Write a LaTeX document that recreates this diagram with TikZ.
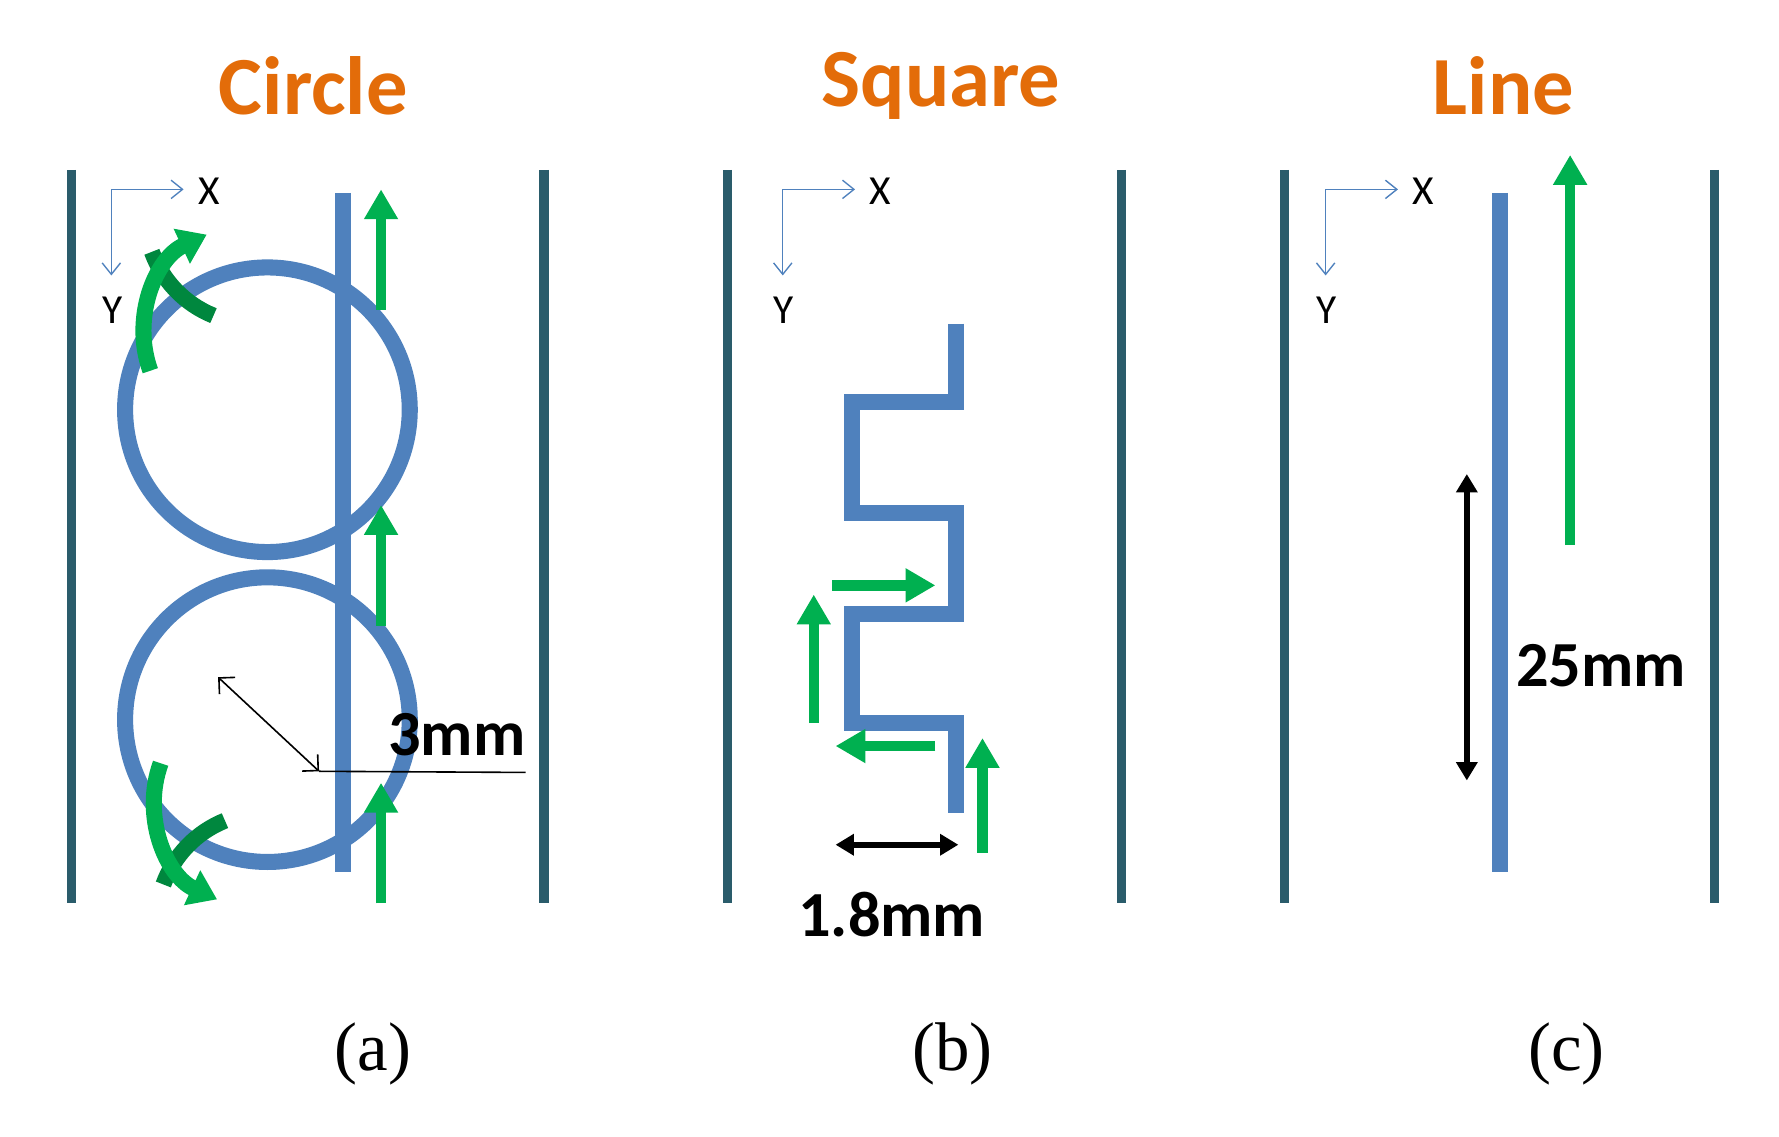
\documentclass[tikz,border=0pt]{standalone}
\usepackage{fontspec}
\setmainfont{Liberation Serif}
\newfontfamily\carl{Carlito}
\usetikzlibrary{arrows.meta}
\definecolor{wall}{HTML}{2A5C6B}
\definecolor{bl}{HTML}{4F81BD}
\definecolor{gr}{HTML}{00B050}
\definecolor{dg}{HTML}{00873E}
\definecolor{org}{HTML}{E36C09}
\begin{document}
\begin{tikzpicture}[x=0.5pt,y=-0.5pt,
 wallst/.style={wall,line width=4pt},
 strip/.style={bl,line width=7pt},
 garrow/.style={gr,line width=4.5pt,-{Triangle[length=13pt,width=14pt]}},
 curv/.style={line width=7pt,-{Triangle[length=12pt,width=16pt]}},
 axis/.style={bl,line width=0.6pt,-{Straight Barb[length=5pt,width=8pt]}},
 ttl/.style={text=org,font=\carl\bfseries\fontsize{36}{40}\selectfont},
 lab/.style={font=\carl\fontsize{18}{20}\selectfont},
 dim/.style={font=\carl\bfseries\fontsize{28}{30}\selectfont},
 captxt/.style={font=\fontsize{30}{34}\selectfont}]
\useasboundingbox (0,0) rectangle (1550,990);
% titles
\node[ttl] (t1) at (273,75) {Circle};
\node[ttl] (t2) at (820,75) {Square};
\node[ttl] (t3) at (1310,75) {Line};
% walls
\foreach \x/\n in {62/a,474/b,634/c,977/d,1119/e,1494/f}{
 \coordinate (w\n1) at (\x,148); \coordinate (w\n2) at (\x,787);
 \draw[wallst] (w\n1) -- (w\n2);}
% axes
\foreach \x/\n in {97/a,682/b,1155/c}{
 \coordinate (o\n) at (\x,165); \coordinate (ox\n) at (\x+63,165); \coordinate (oy\n) at (\x,240);
 \draw[axis] (o\n) -- (ox\n); \draw[axis] (o\n) -- (oy\n);
 \node[lab] (X\n) at (\x+85,167) {X};
 \node[lab] (Y\n) at (\x+1,270) {Y};}
% panel a
\coordinate (sa1) at (299,168); \coordinate (sa2) at (299,760);
\draw[strip] (sa1) -- (sa2);
\node[draw=bl,line width=7pt,circle,minimum size=124pt] (c1) at (233,357) {};
\node[draw=bl,line width=7pt,circle,minimum size=124pt] (c2) at (233,627) {};
\foreach \y/\n in {270/1,545/2,787/3}{
 \coordinate (ga\n s) at (332,\y); \coordinate (ga\n e) at (332,\y-105);
 \draw[garrow] (ga\n s) -- (ga\n e);}
\draw[dg,line width=7pt] (186,275) arc[start angle=112,end angle=160,radius=95];
\draw[gr,curv] (131,323) arc[start angle=160,end angle=245,radius=95];
\draw[dg,line width=7pt] (196,715) arc[start angle=-112,end angle=-160,radius=95];
\draw[gr,curv] (140,665) arc[start angle=-160,end angle=-245,radius=95];
\coordinate (d1) at (190,590); \coordinate (d2) at (278,672); \coordinate (d3) at (458,673);
\draw[line width=0.7pt,{Straight Barb[length=5pt]}-{Straight Barb[length=5pt]}] (d1) -- (d2);
\draw[line width=0.7pt] (d2) -- (d3);
\node[dim] (l3) at (398,640) {3mm};
% panel b
\draw[strip,line join=miter] (833,282) -- (833,350) -- (742,350) -- (742,447) -- (833,447) -- (833,535) -- (742,535) -- (742,630) -- (833,630) -- (833,708);
\coordinate (b1s) at (725,510); \coordinate (b1e) at (815,510);
\coordinate (b2s) at (709,630); \coordinate (b2e) at (709,518);
\coordinate (b3s) at (815,650); \coordinate (b3e) at (728,650);
\coordinate (b4s) at (856,743); \coordinate (b4e) at (856,643);
\foreach \n in {1,2,3,4}{\draw[garrow] (b\n s) -- (b\n e);}
\coordinate (m1) at (728,736); \coordinate (m2) at (835,736);
\draw[line width=2.5pt,{Triangle[length=8pt,width=9pt]}-{Triangle[length=8pt,width=9pt]}] (m1) -- (m2);
\node[dim] (l18) at (777,797) {1.8mm};
% panel c
\coordinate (sc1) at (1307,168); \coordinate (sc2) at (1307,760);
\draw[strip] (sc1) -- (sc2);
\coordinate (gc1) at (1368,475); \coordinate (gc2) at (1368,135);
\draw[garrow] (gc1) -- (gc2);
\coordinate (n1) at (1278,413); \coordinate (n2) at (1278,680);
\draw[line width=2.5pt,{Triangle[length=8pt,width=9pt]}-{Triangle[length=8pt,width=9pt]}] (n1) -- (n2);
\node[dim] (l25) at (1395,580) {25mm};
% captions
\node[captxt] (ca) at (325,918) {(a)};
\node[captxt] (cb) at (830,918) {(b)};
\node[captxt] (cc) at (1365,918) {(c)};
\end{tikzpicture}
\end{document}
